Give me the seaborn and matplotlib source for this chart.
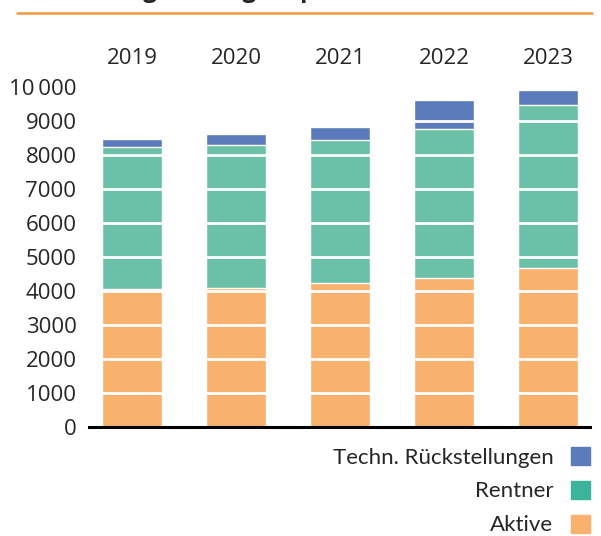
import pandas as pd
import numpy as np
import matplotlib.pyplot as plt
import seaborn as sns

years = ['2019', '2020', '2021', '2022', '2023']
aktive = [4070, 4100, 4240, 4390, 4690]
rentner = [4170, 4200, 4210, 4380, 4790]
techn = [240, 330, 380, 860, 440]

series = ['Techn. Rückstellungen', 'Rentner', 'Aktive']
bar_colors = {'Aktive': '#f8b26d', 'Rentner': '#6dc0a8', 'Techn. Rückstellungen': '#5b7bbd'}
legend_colors = {'Aktive': '#f8b26d', 'Rentner': '#3cb49c', 'Techn. Rückstellungen': '#5b7bbd'}

df = pd.DataFrame({'year': years, 'Aktive': aktive, 'Rentner': rentner,
                   'Techn. Rückstellungen': techn})
# cumulative heights for stacking (draw tallest first)
df['top_Aktive'] = df['Aktive']
df['top_Rentner'] = df['Aktive'] + df['Rentner']
df['top_Techn. Rückstellungen'] = df['top_Rentner'] + df['Techn. Rückstellungen']

sns.set_style('white')
plt.rcParams['font.family'] = ['Open Sans', 'DejaVu Sans']

fig = plt.figure(figsize=(6.01, 5.36), dpi=100)
ax = fig.add_axes([0.148, 0.203, 0.834, 0.634])

for s in series:
    sns.barplot(data=df, x='year', y='top_' + s, color=bar_colors[s], width=0.577,
                saturation=1, ax=ax, zorder=1)

ax.set_xlim(-0.413, 4.404)
ax.set_ylim(0, 10000)
ax.set_yticks(np.arange(0, 10001, 1000))
ax.set_yticklabels([str(v) if v < 10000 else '10\u2009000' for v in range(0, 10001, 1000)])
ax.grid(axis='y', color='white', linewidth=2)
ax.set_axisbelow(False)
ax.xaxis.tick_top()
ax.tick_params(axis='x', length=0, pad=13.5, labelsize=16)
ax.tick_params(axis='y', length=0, pad=9, labelsize=16)
ax.set_xlabel('')
ax.set_ylabel('')
for side in ['top', 'right', 'left']:
    ax.spines[side].set_visible(False)
ax.spines['bottom'].set_color('black')
ax.spines['bottom'].set_linewidth(2.2)
ax.spines['bottom'].set_zorder(5)

handles = [plt.Rectangle((0, 0), 1, 1, color=legend_colors[s]) for s in series]
leg = fig.legend(handles, series, loc='upper right', bbox_to_anchor=(0.982, 0.166),
                 frameon=False, markerfirst=False, handlelength=0.85, handleheight=0.85,
                 handletextpad=0.8, labelspacing=0.6, borderaxespad=0, borderpad=0,
                 prop={'family': 'Lato', 'size': 16})
for t in leg.get_texts():
    t.set_ha('right')
leg._legend_box.align = 'right'

# header rule and (cropped) title
fig.add_artist(plt.Line2D([17 / 601, 592 / 601], [1 - 12.7 / 536, 1 - 12.7 / 536],
                          transform=fig.transFigure, color='#f0993a', linewidth=1.8))
fig.text(8 / 601, 1.0052, 'Entwicklung Vorsorgekapital', fontsize=17.5, fontweight='bold',
         va='baseline', ha='left', family=['Open Sans', 'DejaVu Sans'])

fig.savefig('out.png', dpi=100)
